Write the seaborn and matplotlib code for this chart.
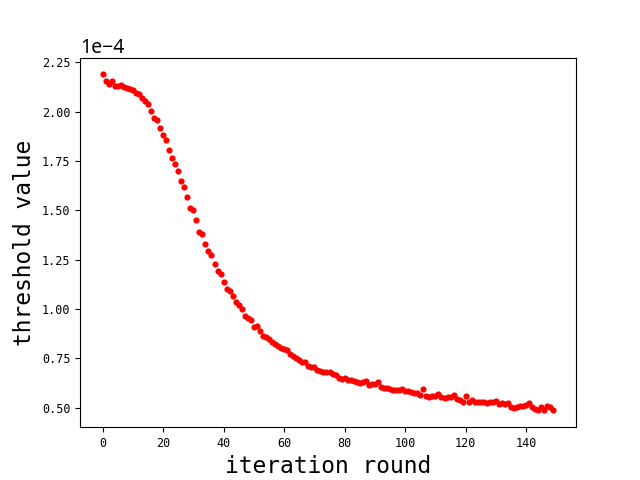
import matplotlib
matplotlib.use("Agg")
import matplotlib.pyplot as plt
import seaborn as sns
import numpy as np
import pandas as pd

# threshold values (in units of 1e-4), one per iteration round 0..149
values_e4 = [
    2.188, 2.154, 2.137, 2.156, 2.127, 2.127, 2.134, 2.124, 2.117, 2.112,
    2.107, 2.095, 2.087, 2.070, 2.054, 2.036, 2.001, 1.968, 1.957, 1.916,
    1.879, 1.854, 1.803, 1.763, 1.736, 1.697, 1.647, 1.616, 1.569, 1.512,
    1.500, 1.449, 1.389, 1.379, 1.330, 1.294, 1.274, 1.228, 1.193, 1.178,
    1.137, 1.103, 1.092, 1.065, 1.036, 1.022, 0.999, 0.964, 0.955, 0.945,
    0.908, 0.915, 0.888, 0.863, 0.859, 0.847, 0.830, 0.822, 0.814, 0.800,
    0.797, 0.790, 0.770, 0.763, 0.752, 0.740, 0.731, 0.733, 0.712, 0.708,
    0.706, 0.693, 0.684, 0.680, 0.678, 0.680, 0.672, 0.667, 0.652, 0.645,
    0.648, 0.638, 0.640, 0.633, 0.631, 0.625, 0.628, 0.633, 0.616, 0.618,
    0.622, 0.632, 0.607, 0.601, 0.598, 0.592, 0.590, 0.591, 0.587, 0.592,
    0.586, 0.583, 0.580, 0.575, 0.573, 0.566, 0.595, 0.557, 0.555, 0.557,
    0.561, 0.567, 0.556, 0.549, 0.552, 0.556, 0.564, 0.546, 0.540, 0.530,
    0.561, 0.527, 0.537, 0.531, 0.528, 0.530, 0.528, 0.524, 0.527, 0.530,
    0.534, 0.520, 0.521, 0.519, 0.524, 0.504, 0.498, 0.505, 0.510, 0.507,
    0.515, 0.524, 0.503, 0.495, 0.490, 0.503, 0.490, 0.507, 0.503, 0.486,
]
rounds = list(range(len(values_e4)))
thresholds = [v * 1e-4 for v in values_e4]

x_label = "iteration round"
y_label = "threshold value"

df = pd.DataFrame({"round": rounds, "threshold": thresholds})

fig, ax = plt.subplots(figsize=(6.4, 4.8), dpi=100)
sns.scatterplot(data=df, x="round", y="threshold", ax=ax,
                color="red", s=20, linewidth=0, legend=False)

ax.ticklabel_format(style="sci", axis="y", scilimits=(0, 0))
ax.set_xlabel(x_label, fontsize=16.5, family="DejaVu Sans Mono")
ax.set_ylabel(y_label, fontsize=16.5, family="DejaVu Sans Mono")
ax.tick_params(labelsize=8.5)
for lab in ax.get_xticklabels() + ax.get_yticklabels():
    lab.set_family("DejaVu Sans Mono")
off = ax.yaxis.get_offset_text()
off.set_fontsize(14)
off.set_family(["Noto Sans", "DejaVu Sans"])

fig.savefig("out.png", dpi=100)
